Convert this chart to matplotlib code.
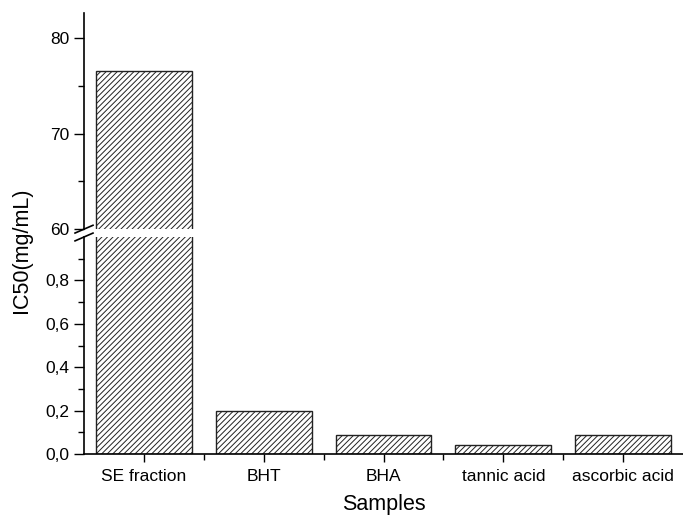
import numpy as np
import matplotlib.pyplot as plt
from matplotlib.ticker import FixedLocator, FuncFormatter

plt.rcParams['font.family'] = ['Liberation Sans', 'DejaVu Sans']
plt.rcParams['hatch.linewidth'] = 0.7
plt.rcParams['hatch.color'] = '#333333'

samples = ["SE fraction", "BHT", "BHA", "tannic acid", "ascorbic acid"]
ic50 = [76.5, 0.20, 0.09, 0.04, 0.09]

fig = plt.figure(figsize=(6.83, 5.22), dpi=100)
ax_top = fig.add_axes([0.123, 0.561, 0.877, 0.414])
ax_bot = fig.add_axes([0.123, 0.130, 0.877, 0.416])

x = np.arange(len(samples))
for ax in (ax_top, ax_bot):
    ax.bar(x, ic50, width=0.8, color='white', edgecolor='#222222',
           linewidth=1.0, hatch='//////')
    ax.set_xlim(-0.5, 4.5)
    ax.spines['top'].set_visible(False)
    ax.spines['right'].set_visible(False)
    ax.spines['left'].set_linewidth(1.2)
    ax.tick_params(axis='y', which='major', direction='out', length=7,
                   width=1.0, labelsize=12.5)
    ax.tick_params(axis='y', which='minor', direction='out', length=4, width=1.0)

# upper part
ax_top.set_ylim(60, 82.6)
ax_top.spines['bottom'].set_visible(False)
ax_top.set_xticks([])
ax_top.yaxis.set_major_locator(FixedLocator([60, 70, 80]))
ax_top.yaxis.set_minor_locator(FixedLocator([65, 75]))

# lower part
ax_bot.set_ylim(0, 1.0)
ax_bot.spines['bottom'].set_linewidth(1.2)
ax_bot.yaxis.set_major_locator(FixedLocator([0.0, 0.2, 0.4, 0.6, 0.8]))
ax_bot.yaxis.set_minor_locator(FixedLocator([0.1, 0.3, 0.5, 0.7, 0.9]))
ax_bot.yaxis.set_major_formatter(FuncFormatter(lambda v, p: f"{v:.1f}".replace('.', ',')))
ax_bot.set_xticks(x)
ax_bot.set_xticklabels(samples)
ax_bot.xaxis.set_minor_locator(FixedLocator(x[:-1] + 0.5))
ax_bot.tick_params(axis='x', which='major', direction='out', length=6,
                   width=1.0, labelsize=12.5, pad=5)
ax_bot.tick_params(axis='x', which='minor', direction='out', length=4, width=1.0)
ax_bot.set_xlabel("Samples", fontsize=15.5, labelpad=7)

# break marks on the y axis
dx, dy = 0.015, 0.018
ax_top.plot([-dx, dx], [-dy, dy], transform=ax_top.transAxes,
            color='black', lw=1.2, clip_on=False)
ax_bot.plot([-dx, dx], [1 - dy, 1 + dy], transform=ax_bot.transAxes,
            color='black', lw=1.2, clip_on=False)

fig.text(0.032, 0.52, "IC50(mg/mL)", rotation=90, fontsize=15.5,
         ha='center', va='center')

fig.savefig("out.png", dpi=100)
